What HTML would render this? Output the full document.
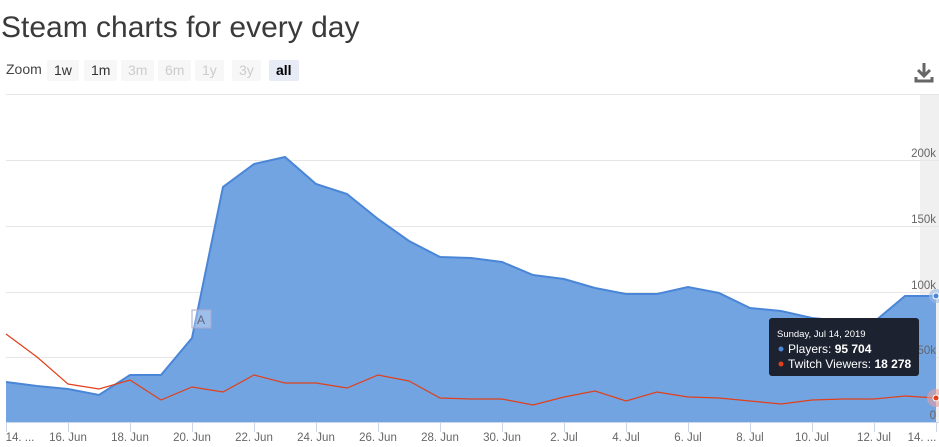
<!DOCTYPE html>
<html><head><style>
body{margin:0;width:939px;height:447px;overflow:hidden;background:#fff;font-family:"Liberation Sans",sans-serif}
.t{position:absolute;left:1px;top:11px;font-size:30px;color:#3a3a3a}
.z{position:absolute;top:61px;font-size:14px;color:#444}
.b{position:absolute;top:60px;height:21px;line-height:21px;padding:0 7px;background:#f7f7f7;font-size:14px;color:#333;border-radius:2px}
</style></head><body>
<div class="t">Steam charts for every day</div>
<div class="z" style="left:6px">Zoom</div>
<div class="b" style="left:47px">1w</div>
<div class="b" style="left:84px">1m</div>
<div class="b" style="left:121px;color:#ccc">3m</div>
<div class="b" style="left:158px;color:#ccc">6m</div>
<div class="b" style="left:195px;color:#ccc">1y</div>
<div class="b" style="left:232px;color:#ccc">3y</div>
<div class="b" style="left:269px;background:#e6ebf5;color:#000;font-weight:bold">all</div>
<svg width="939" height="447" style="position:absolute;left:0;top:0" font-family="Liberation Sans,sans-serif">
<path d="M924 63v12M918 70l6 6 6-6M916 77v4h16v-4" stroke="#666" stroke-width="3" fill="none"/>
<rect x="920" y="94" width="19" height="328" fill="#f0f0f0"/>
<g stroke="#e6e6e6"><line x1="6" x2="939" y1="94.5" y2="94.5"/><line x1="6" x2="939" y1="160.5" y2="160.5"/><line x1="6" x2="939" y1="226.5" y2="226.5"/><line x1="6" x2="939" y1="292.5" y2="292.5"/><line x1="6" x2="939" y1="357.5" y2="357.5"/></g>
<path d="M6 382L37 386L68 389L99 395L130 375L161 375L192 338L223 187L254 164L285 157L316 184L347 194L378 219L409 241L440 257L471 258L502 262L533 275L564 279L595 288L626 294L657 294L688 287L719 293L750 308L781 311L812 318L843 321L874 322L905 296L936 296L936 422L6 422Z" fill="#6a9fe0" fill-opacity="0.95"/>
<path d="M6 382L37 386L68 389L99 395L130 375L161 375L192 338L223 187L254 164L285 157L316 184L347 194L378 219L409 241L440 257L471 258L502 262L533 275L564 279L595 288L626 294L657 294L688 287L719 293L750 308L781 311L812 318L843 321L874 322L905 296L936 296" fill="none" stroke="#4a86d8" stroke-width="2"/>
<path d="M6 334L37 357L68 384L99 389L130 380L161 400L192 387L223 392L254 375L285 383L316 383L347 388L378 375L409 381L440 398L471 399L502 399L533 405L564 397L595 391L626 401L657 392L688 397L719 398L750 401L781 404L812 400L843 399L874 399L905 396L936 398" fill="none" stroke="#e0401a" stroke-width="1.2"/>
<rect x="192" y="310" width="19" height="18" fill="#fff" fill-opacity="0.3" stroke="#aac" /><text x="197" y="324" font-size="12" fill="#667">A</text>
<circle cx="936" cy="296" r="7" fill="#9bbbe8" opacity="0.6"/><circle cx="936" cy="296" r="3" fill="#4a86d8" stroke="#fff"/>
<circle cx="936" cy="398" r="9" fill="#e8a0a0" opacity="0.6"/><circle cx="936" cy="398" r="3" fill="#e0401a" stroke="#fff"/>
<line x1="6" x2="939" y1="422.5" y2="422.5" stroke="#ccd6eb"/>
<g stroke="#ccd6eb"><line x1="6.5" x2="6.5" y1="422" y2="432"/><line x1="68.5" x2="68.5" y1="422" y2="432"/><line x1="130.5" x2="130.5" y1="422" y2="432"/><line x1="192.5" x2="192.5" y1="422" y2="432"/><line x1="254.5" x2="254.5" y1="422" y2="432"/><line x1="316.5" x2="316.5" y1="422" y2="432"/><line x1="378.5" x2="378.5" y1="422" y2="432"/><line x1="440.5" x2="440.5" y1="422" y2="432"/><line x1="502.5" x2="502.5" y1="422" y2="432"/><line x1="564.5" x2="564.5" y1="422" y2="432"/><line x1="626.5" x2="626.5" y1="422" y2="432"/><line x1="688.5" x2="688.5" y1="422" y2="432"/><line x1="750.5" x2="750.5" y1="422" y2="432"/><line x1="812.5" x2="812.5" y1="422" y2="432"/><line x1="874.5" x2="874.5" y1="422" y2="432"/><line x1="936.5" x2="936.5" y1="422" y2="432"/></g>
<g font-size="11.5" fill="#666" text-anchor="middle"><text x="20" y="441">14. ...</text><text x="68" y="441">16. Jun</text><text x="130" y="441">18. Jun</text><text x="192" y="441">20. Jun</text><text x="254" y="441">22. Jun</text><text x="316" y="441">24. Jun</text><text x="378" y="441">26. Jun</text><text x="440" y="441">28. Jun</text><text x="502" y="441">30. Jun</text><text x="564" y="441">2. Jul</text><text x="626" y="441">4. Jul</text><text x="688" y="441">6. Jul</text><text x="750" y="441">8. Jul</text><text x="812" y="441">10. Jul</text><text x="874" y="441">12. Jul</text><text x="922" y="441">14. ...</text></g>
<g font-size="11.5" fill="#666" text-anchor="end"><text x="936" y="157">200k</text><text x="936" y="223">150k</text><text x="936" y="289">100k</text><text x="936" y="354">50k</text><text x="936" y="419">0</text></g>
<rect x="769" y="318" width="150" height="58" rx="3" fill="#1c2230"/>
<text x="777" y="337" font-size="9.5" fill="#fff">Sunday, Jul 14, 2019</text>
<circle cx="781" cy="349" r="2.5" fill="#4a86d8"/><text x="788" y="353" font-size="12" fill="#fff">Players: <tspan font-weight="bold">95 704</tspan></text>
<circle cx="781" cy="364" r="2.5" fill="#e0401a"/><text x="788" y="368" font-size="12" fill="#fff">Twitch Viewers: <tspan font-weight="bold">18 278</tspan></text>
</svg>
</body></html>
